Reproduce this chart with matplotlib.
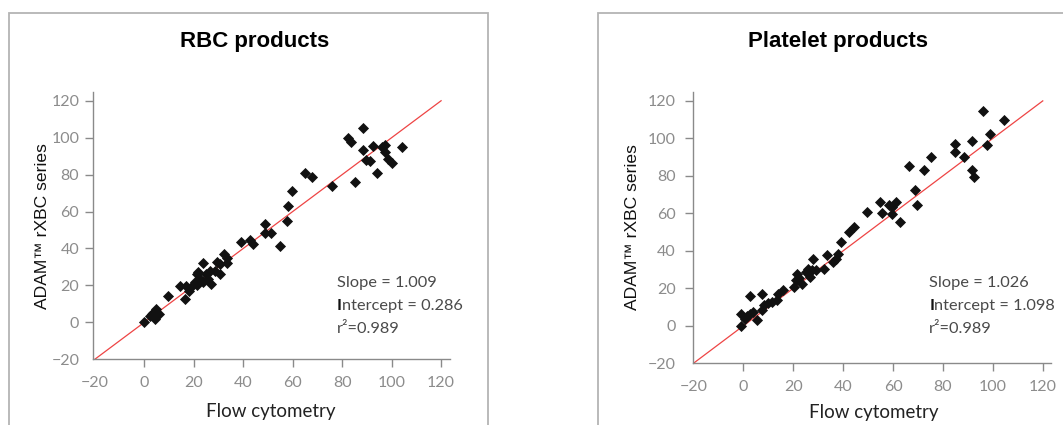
import matplotlib
matplotlib.use("Agg")
import matplotlib.pyplot as plt
from matplotlib.patches import Rectangle

# ---------------- data ----------------
rbc_flow = [0, 2.3, 3.6, 4.7, 4.4, 6, 3, 9.8, 14.4, 16.4, 16.9, 18.2, 19.1, 20.5, 21.4,
            21.2, 21.8, 22.5, 23.6, 23.9, 24.9, 25.9, 26.8, 26.6, 28.6, 29.3, 30.6, 30.6,
            32.2, 33.3, 33.6, 39.1, 42.7, 43.8, 48.8, 48.8, 51.2, 54.9, 57.6, 58.0, 59.9,
            65.0, 67.9, 75.8, 82.5, 83.6, 85.3, 88.6, 88.6, 89.6, 91.3, 92.3, 94.0, 96.0,
            97.4, 97.5, 98.7, 100.3, 104.1]
rbc_adam = [0, 3.4, 5.2, 7, 2, 4.3, 4.3, 14.3, 19.7, 12.8, 19.7, 17, 19.7, 21.9, 20,
            26, 27.3, 23.3, 32, 21.9, 26, 23.3, 20.6, 27.8, 27.8, 32.7, 31.4, 26,
            36.8, 35, 32, 43.5, 44.6, 42.3, 53.3, 48.2, 48.4, 41.2, 54.9, 62.9, 71.4,
            81.1, 78.8, 73.7, 99.9, 97.4, 76.2, 105, 93.2, 88.1, 87.2, 95.7, 80.9, 94.7,
            95.9, 92.5, 88.3, 86.2, 94.7]

plt_flow = [-0.9, -0.9, 0.7, 1.3, 2.7, 2.7, 4.0, 5.6, 7.3, 7.3, 8.3, 10.0, 11.4, 13.4, 14.0,
            16.0, 20.3, 21.1, 21.4, 22.4, 23.4, 25.1, 26.1, 26.9, 27.4, 28.1, 29.1, 32.3,
            33.4, 36.1, 37.1, 38.1, 39.0, 42.5, 44.4, 49.7, 54.8, 55.7, 58.5, 59.5, 59.5,
            61.2, 62.8, 66.5, 68.8, 69.5, 72.5, 75.1, 84.9, 84.9, 88.6, 91.5, 91.5, 92.6,
            96.2, 97.8, 98.9, 104.5]
plt_adam = [0, 6.1, 3.7, 5.5, 15.7, 6.4, 7.3, 3.2, 16.8, 8.2, 10.9, 12.1, 12.7, 13.6, 16.8,
            19.3, 20.7, 24.3, 27.8, 25.7, 22.5, 28.7, 30.5, 26, 30, 35.8, 29.6, 30.5,
            37.6, 34.1, 35.8, 38.5, 44.8, 49.8, 52.8, 60.8, 65.8, 60.3, 64.4, 63.5, 59.4,
            66.2, 55.5, 85.4, 72.4, 64.4, 83.1, 90.2, 96.8, 92.6, 90.2, 98.8, 83.1, 79.2,
            114.7, 96.5, 102.2, 109.9]

titles = ["RBC products", "Platelet products"]
stats = [("1.009", "0.286", "0.989"), ("1.026", "1.098", "0.989")]
ticks = [-20, 0, 20, 40, 60, 80, 100, 120]
identity = [-20, 120]
x_label = "Flow cytometry"
y_label = "ADAM\u2122 rXBC series"

# ---------------- figure ----------------
W, H = 1063, 425
fig = plt.figure(figsize=(W / 100, H / 100), dpi=100)

title_font = ["Liberation Sans", "DejaVu Sans"]
tick_font = ["Lato", "DejaVu Sans"]
soft_font = ["Lato", "DejaVu Sans"]

panels = [
    dict(pos=[93.3, 91.7, 450, 359.3], xlim=(-20.6, 123.6), box=(8.5, 487.7), tx=254.7,
         ypad=4.3, xl=(270.5, 411), yl=(43, 226), sx=336.7),
    dict(pos=[692.7, 91.7, 1051, 363.3], xlim=(-20.3, 123.3), box=(597.5, 1075), tx=838,
         ypad=6.5, xl=(873.8, 412.5), yl=(632.5, 227), sx=929.3),
]
data = [(rbc_flow, rbc_adam), (plt_flow, plt_adam)]

for i, p in enumerate(panels):
    x0, y0, x1, y1 = p["pos"]
    ax = fig.add_axes([x0 / W, 1 - y1 / H, (x1 - x0) / W, (y1 - y0) / H])
    # panel frame
    bx0, bx1 = p["box"]
    fig.patches.append(Rectangle((bx0 / W, -0.1), (bx1 - bx0) / W, 1.1 - 13.5 / H,
                                 transform=fig.transFigure, fill=False,
                                 edgecolor="#b4b4b4", linewidth=1.3))
    fig.text(p["tx"] / W, 1 - 41 / H, titles[i], ha="center", va="center",
             fontsize=16, fontweight="bold", family=title_font, color="black")

    xs, ys = data[i]
    ax.plot(identity, identity, color="#ee4444", linewidth=0.9, zorder=1)
    ax.scatter(xs, ys, marker="D", s=32, color="#111111", linewidths=0, zorder=3)

    ax.set_xlim(*p["xlim"])
    ax.set_ylim(-20, 124.9)
    ax.set_xticks(ticks)
    ax.set_yticks(ticks)
    for s in ["top", "right"]:
        ax.spines[s].set_visible(False)
    for s in ["left", "bottom"]:
        ax.spines[s].set_color("#8a8a8a")
        ax.spines[s].set_linewidth(1.0)
    ax.tick_params(axis="both", direction="out", length=5.8, width=1.0, color="#8a8a8a",
                   labelcolor="#8c8c8c", labelsize=11.5)
    ax.tick_params(axis="x", pad=6.5)
    ax.tick_params(axis="y", pad=p["ypad"])
    for lab in ax.get_xticklabels() + ax.get_yticklabels():
        lab.set_family(tick_font)
    ax.xaxis.get_major_ticks()[0].tick1line.set_visible(False)
    ax.yaxis.get_major_ticks()[0].tick1line.set_visible(False)

    # axis labels
    fig.text(p["xl"][0] / W, 1 - p["xl"][1] / H, x_label, family=soft_font, fontsize=13.5,
             color="#222222", ha="center", va="center")
    fig.text(p["yl"][0] / W, 1 - p["yl"][1] / H, y_label, family=title_font,
             fontsize=12.6, color="#111111", ha="center", va="center", rotation=90)

    # stats text
    sx = p["sx"] / W
    sl, ic, r2 = stats[i]
    kw = dict(family=soft_font, fontsize=11.8, color="#4a4a4a", va="center", ha="left")
    fig.text(sx, 1 - 283 / H, f"Slope = {sl}", **kw)
    tI = fig.text(sx, 1 - 306.3 / H, "I", family=soft_font, fontsize=11.8,
                  color="#111111", va="center", ha="left", fontweight="bold")
    ax.annotate(f"ntercept = {ic}", xy=(1, 0), xycoords=tI, va="bottom", ha="left",
                family=soft_font, fontsize=11.8, color="#4a4a4a",
                annotation_clip=False)
    fig.text(sx, 1 - 329.3 / H, f"r\u00b2={r2}", **kw)

fig.savefig("out.png", dpi=100)
